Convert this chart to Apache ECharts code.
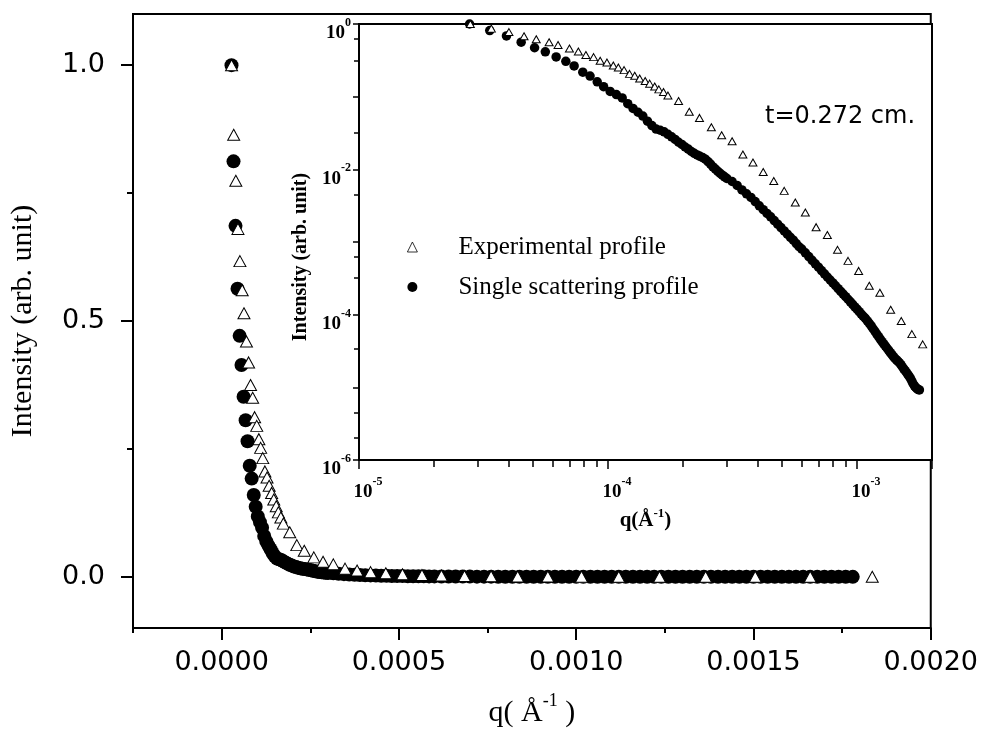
<!DOCTYPE html>
<html>
<head>
<meta charset="utf-8">
<script src="https://cdn.jsdelivr.net/npm/echarts@6.0.0/dist/echarts.min.js"></script>
<style>html,body{margin:0;padding:0;background:#fff}#c{width:981px;height:733px}</style>
</head>
<body>
<div id="c"></div>
<script>
// Experimental profile (triangles)
const expQ = [2.8e-5, 3.4e-5, 4.0e-5, 4.6e-5, 5.15e-5, 5.8e-5, 6.3e-5, 7.0e-5, 7.6e-5, 8.15e-5, 8.75e-5, 9.3e-5, 9.9e-5, 1.05e-4, 1.1e-4, 1.16e-4, 1.22e-4, 1.28e-4, 1.34e-4, 1.41e-4, 1.47e-4, 1.54e-4, 1.6e-4, 1.67e-4, 1.74e-4, 1.92e-4, 2.12e-4, 2.33e-4, 2.6e-4, 2.86e-4, 3.15e-4, 3.48e-4, 3.82e-4, 4.2e-4, 4.63e-4, 5.1e-4, 5.65e-4, 6.2e-4, 6.85e-4, 7.6e-4, 8.35e-4, 9.2e-4, 1.015e-3, 1.12e-3, 1.235e-3, 1.365e-3, 1.505e-3, 1.66e-3, 1.835e-3];
const expI = [1.0, 0.864, 0.774, 0.68, 0.617, 0.56, 0.515, 0.46, 0.419, 0.375, 0.35, 0.312, 0.295, 0.269, 0.252, 0.232, 0.206, 0.194, 0.178, 0.164, 0.151, 0.138, 0.126, 0.116, 0.104, 0.087, 0.062, 0.051, 0.038, 0.0295, 0.0244, 0.016, 0.0124, 0.0092, 0.0069, 0.00505, 0.0035, 0.00255, 0.0016, 0.00125, 0.00078, 0.00055, 0.0004, 0.00025, 0.0002, 0.000117, 0.000082, 0.000054, 0.000039];

// Single scattering profile (filled circles)
const sglQ = [2.78e-5, 3.35e-5, 3.91e-5, 4.48e-5, 5.07e-5, 5.6e-5, 6.19e-5, 6.77e-5, 7.31e-5, 7.92e-5, 8.47e-5,
  9.05e-5, 9.6e-5, 1.02e-4, 1.08e-4, 1.14e-4, 1.2e-4, 1.26e-4, 1.32e-4, 1.38e-4, 1.44e-4, 1.5e-4, 1.56e-4, 1.62e-4, 1.68e-4, 1.74e-4, 1.8e-4, 1.86e-4, 1.92e-4, 1.98e-4, 2.04e-4, 2.1e-4, 2.16e-4, 2.22e-4, 2.28e-4, 2.34e-4, 2.4e-4, 2.46e-4, 2.52e-4, 2.58e-4, 2.64e-4, 2.7e-4, 2.76e-4, 2.82e-4, 2.88e-4, 2.94e-4, 3.0e-4,
  3.15e-4, 3.3e-4, 3.45e-4, 3.6e-4, 3.75e-4, 3.9e-4, 4.05e-4, 4.2e-4, 4.35e-4, 4.5e-4, 4.65e-4, 4.8e-4, 4.95e-4, 5.1e-4, 5.25e-4, 5.4e-4, 5.55e-4, 5.7e-4, 5.85e-4,
  6.0e-4, 6.2e-4, 6.4e-4, 6.6e-4, 6.8e-4, 7.0e-4, 7.2e-4, 7.4e-4, 7.6e-4, 7.8e-4, 8.0e-4, 8.2e-4, 8.4e-4, 8.6e-4, 8.8e-4, 9.0e-4, 9.2e-4, 9.4e-4, 9.6e-4, 9.8e-4, 1.0e-3, 1.02e-3, 1.04e-3, 1.06e-3, 1.08e-3, 1.1e-3, 1.12e-3, 1.14e-3, 1.16e-3, 1.18e-3, 1.2e-3, 1.22e-3, 1.24e-3, 1.26e-3, 1.28e-3, 1.3e-3, 1.32e-3, 1.34e-3, 1.36e-3, 1.38e-3, 1.4e-3, 1.42e-3, 1.44e-3, 1.46e-3, 1.48e-3, 1.5e-3, 1.52e-3, 1.54e-3, 1.56e-3, 1.58e-3, 1.6e-3, 1.62e-3, 1.64e-3, 1.66e-3, 1.68e-3, 1.7e-3, 1.72e-3, 1.74e-3, 1.76e-3, 1.78e-3];
const sglI = [1.0, 0.812, 0.686, 0.563, 0.471, 0.414, 0.352, 0.306, 0.265, 0.217, 0.192,
  0.160, 0.137, 0.118, 0.107, 0.096, 0.080, 0.069, 0.061, 0.054, 0.046, 0.040, 0.0358, 0.0345, 0.0328, 0.0303, 0.0280, 0.0258, 0.0236, 0.0220, 0.0203, 0.0190, 0.0176, 0.0166, 0.0158, 0.0151, 0.0145, 0.0138, 0.0128, 0.0118, 0.0108, 0.0101, 0.0094, 0.0088, 0.0083, 0.0079, 0.0075,
  0.0068, 0.0060, 0.0052, 0.0046, 0.0041, 0.0036, 0.00315, 0.00278, 0.00247, 0.00222, 0.00197, 0.00176, 0.00158, 0.00142, 0.00128, 0.00116, 0.00106, 0.00095, 0.00086,
  8.0e-4, 7.1e-4, 6.3e-4, 5.6e-4, 5.0e-4, 4.5e-4, 4.05e-4, 3.65e-4, 3.3e-4, 3.0e-4, 2.73e-4, 2.5e-4, 2.28e-4, 2.09e-4, 1.92e-4, 1.77e-4, 1.63e-4, 1.5e-4, 1.39e-4, 1.28e-4, 1.19e-4, 1.1e-4, 1.02e-4, 9.5e-5, 8.9e-5, 8.2e-5, 7.6e-5, 7.0e-5, 6.4e-5, 5.9e-5, 5.4e-5, 5.0e-5, 4.6e-5, 4.25e-5, 3.95e-5, 3.7e-5, 3.45e-5, 3.22e-5, 3.0e-5, 2.82e-5, 2.65e-5, 2.5e-5, 2.38e-5, 2.28e-5, 2.18e-5, 2.05e-5, 1.92e-5, 1.8e-5, 1.7e-5, 1.6e-5, 1.5e-5, 1.42e-5, 1.32e-5, 1.22e-5, 1.12e-5, 1.05e-5, 1.0e-5, 9.6e-6, 9.3e-6, 9.2e-6];

// Tick values
const mainXMajor = [0, 0.0005, 0.0010, 0.0015, 0.0020];
const mainXMinor = [-0.00025, 0.00025, 0.00075, 0.00125, 0.00175];
const mainYMajor = [0, 0.5, 1.0];
const mainYMinor = [0.25, 0.75];
const insetXMinor = [2e-5, 3e-5, 4e-5, 5e-5, 6e-5, 7e-5, 8e-5, 9e-5, 2e-4, 3e-4, 4e-4, 5e-4, 6e-4, 7e-4, 8e-4, 9e-4];
const insetYMinor = [0.63, 0.316, 0.0316, 0.0044, 6.3e-4, 3.2e-4, 3.4e-5, 4.4e-6, 2e-6];

const names = ['Experimental profile', 'Single scattering profile'];
const expData = expQ.map((q, i) => [q, expI[i]]);
const sglData = sglQ.map((q, i) => [q, sglI[i]]);

const serif = 'Liberation Serif';
const sans = 'DejaVu Sans';
const blk = '#000';
const axLine = { show: true, onZero: false, lineStyle: { color: blk, width: 2 } };
const noLine = { show: false, onZero: false };

const supRich = {
  b: { fontFamily: serif, fontWeight: 'bold', fontSize: 19, lineHeight: 26, verticalAlign: 'bottom', color: blk },
  s: { fontFamily: serif, fontWeight: 'bold', fontSize: 12, verticalAlign: 'top', color: blk }
};
function powLabel(v) {
  const e = Math.log10(v);
  const r = Math.round(e);
  if (Math.abs(e - r) > 1e-6) return '';
  return '{b|10}{s|' + r + '}';
}
function evenPowLabel(v) {
  const e = Math.log10(v);
  const r = Math.round(e);
  if (Math.abs(e - r) > 1e-6 || r % 2 !== 0) return '';
  return '{b|10}{s|' + r + '}';
}

const option = {
  animation: false,
  backgroundColor: '#fff',
  title: {
    text: 't=0.272 cm.', left: 765, top: 105, padding: 0,
    textStyle: { fontFamily: sans, fontSize: 24, fontWeight: 'normal', color: blk }
  },
  legend: {
    left: 402, top: 229, orient: 'vertical', itemGap: 14, itemWidth: 10, itemHeight: 10,
    data: [
      { name: names[0], icon: 'triangle', itemStyle: { color: '#fff', borderColor: blk, borderWidth: 0.8 } },
      { name: names[1], icon: 'circle', itemStyle: { color: blk, borderWidth: 0 } }
    ],
    textStyle: { fontFamily: serif, fontSize: 25, lineHeight: 26, color: blk, padding: [0, 0, 0, 36] }
  },
  grid: [
    { left: 132, top: 14, width: 801, height: 614, show: true, borderColor: blk, borderWidth: 2, backgroundColor: 'transparent' },
    { left: 359, top: 24, width: 573, height: 436, show: true, borderColor: blk, borderWidth: 2, backgroundColor: '#fff' }
  ],
  xAxis: [
    {
      gridIndex: 0, type: 'value', min: -0.00025, max: 0.002, position: 'bottom',
      axisLine: axLine, splitLine: { show: false },
      axisTick: { customValues: mainXMajor, length: 12, lineStyle: { color: blk, width: 2 } },
      axisLabel: { customValues: mainXMajor, formatter: v => v.toFixed(4), fontFamily: sans, fontSize: 27, color: blk, margin: 21 },
      name: '{t|q( Å}{s|-1}{t| )}', nameLocation: 'middle', nameGap: 64,
      nameTextStyle: { rich: {
        t: { fontFamily: serif, fontSize: 30, lineHeight: 36, verticalAlign: 'bottom', color: blk },
        s: { fontFamily: serif, fontSize: 18, verticalAlign: 'top', color: blk }
      } }
    },
    {
      gridIndex: 0, type: 'value', min: -0.00025, max: 0.002, position: 'bottom',
      axisLine: noLine, splitLine: { show: false }, axisLabel: { show: false },
      axisTick: { customValues: mainXMinor, length: 5, lineStyle: { color: blk, width: 2 } }
    },
    {
      gridIndex: 1, type: 'log', logBase: 10, min: 1e-5, max: 2e-3, position: 'bottom',
      axisLine: axLine, splitLine: { show: false },
      axisTick: { length: 9, lineStyle: { color: blk, width: 1.5 } },
      axisLabel: { formatter: powLabel, rich: supRich, margin: 16, padding: [0, 0, 0, 18], showMinLabel: true, showMaxLabel: true },
      name: '{t|q(Å}{s|-1}{t|)}', nameLocation: 'middle', nameGap: 46,
      nameTextStyle: { rich: {
        t: { fontFamily: serif, fontWeight: 'bold', fontSize: 21, lineHeight: 24, verticalAlign: 'bottom', color: blk },
        s: { fontFamily: serif, fontWeight: 'bold', fontSize: 13, verticalAlign: 'top', color: blk }
      } }
    },
    {
      gridIndex: 1, type: 'log', logBase: 10, min: 1e-5, max: 2e-3, position: 'bottom',
      axisLine: noLine, splitLine: { show: false }, axisLabel: { show: false },
      axisTick: { customValues: insetXMinor, length: 7, lineStyle: { color: blk, width: 1.5 } }
    }
  ],
  yAxis: [
    {
      gridIndex: 0, type: 'value', min: -0.1, max: 1.1, position: 'left',
      axisLine: axLine, splitLine: { show: false },
      axisTick: { customValues: mainYMajor, length: 12, lineStyle: { color: blk, width: 2 } },
      axisLabel: { customValues: mainYMajor, formatter: v => v.toFixed(1), fontFamily: sans, fontSize: 27, color: blk, margin: 28 },
      name: 'Intensity (arb. unit)', nameLocation: 'middle', nameGap: 95,
      nameTextStyle: { fontFamily: serif, fontSize: 30, color: blk }
    },
    {
      gridIndex: 0, type: 'value', min: -0.1, max: 1.1, position: 'left',
      axisLine: noLine, splitLine: { show: false }, axisLabel: { show: false },
      axisTick: { customValues: mainYMinor, length: 6, lineStyle: { color: blk, width: 2 } }
    },
    {
      gridIndex: 1, type: 'log', logBase: 10, min: 1e-6, max: 1, position: 'left',
      axisLine: axLine, splitLine: { show: false },
      axisTick: { length: 6, lineStyle: { color: blk, width: 1.5 } },
      axisLabel: { formatter: evenPowLabel, rich: supRich, margin: 8, padding: [12, 0, 0, 0], showMinLabel: true, showMaxLabel: true },
      name: 'Intensity (arb. unit)', nameLocation: 'middle', nameGap: 48,
      nameTextStyle: { fontFamily: serif, fontWeight: 'bold', fontSize: 20, color: blk, padding: [0, 30, 0, 0] }
    },
    {
      gridIndex: 1, type: 'log', logBase: 10, min: 1e-6, max: 1, position: 'left',
      axisLine: noLine, splitLine: { show: false }, axisLabel: { show: false },
      axisTick: { customValues: insetYMinor, length: 5, lineStyle: { color: blk, width: 1.5 } }
    }
  ],
  series: [
    { name: names[1], type: 'scatter', xAxisIndex: 0, yAxisIndex: 0, data: sglData, symbol: 'circle', symbolSize: 14,
      itemStyle: { color: blk, opacity: 1 }, z: 2, silent: true },
    { name: names[0], type: 'scatter', xAxisIndex: 0, yAxisIndex: 0, data: expData, symbol: 'triangle', symbolSize: [12, 11],
      itemStyle: { color: '#fff', borderColor: blk, borderWidth: 1, opacity: 1 }, z: 3, silent: true },
    { name: names[1], type: 'scatter', xAxisIndex: 2, yAxisIndex: 2, data: sglData, symbol: 'circle', symbolSize: 9.5,
      itemStyle: { color: blk, opacity: 1 }, z: 4, silent: true },
    { name: names[0], type: 'scatter', xAxisIndex: 2, yAxisIndex: 2, data: expData, symbol: 'triangle', symbolSize: [8, 7],
      itemStyle: { color: '#fff', borderColor: blk, borderWidth: 1, opacity: 1 }, z: 5, silent: true }
  ]
};

const chart = echarts.init(document.getElementById('c'), null, { renderer: 'canvas' });
chart.setOption(option);
</script>
</body>
</html>
